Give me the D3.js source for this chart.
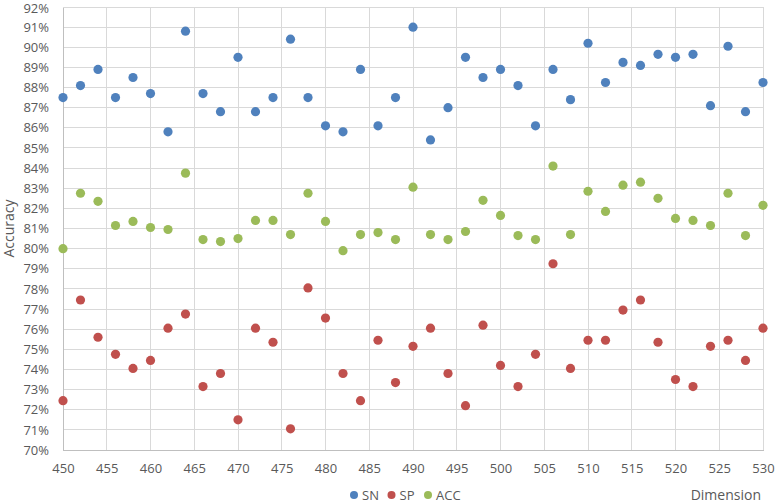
<!DOCTYPE html>
<html><head><meta charset="utf-8">
<script src="https://cdn.jsdelivr.net/npm/d3@7"></script>
<style>body{margin:0;background:#fff}svg{display:block}text{font-family:"Open Sans","Liberation Sans",sans-serif}</style>
</head><body><svg id="c" width="778" height="504"></svg>
<script>
const dims = d3.range(450, 531, 2);
const SN = [87.5,88.1,88.9,87.5,88.5,87.7,85.8,90.8,87.7,86.8,89.5,86.8,87.5,90.4,87.5,86.1,85.8,88.9,86.1,87.5,91.0,85.4,87.0,89.5,88.5,88.9,88.1,86.1,88.9,87.4,90.2,88.25,89.25,89.1,89.65,89.5,89.65,87.1,90.05,86.8,88.25];
const SP = [72.45,77.45,75.6,74.75,74.05,74.45,76.05,76.75,73.15,73.8,71.5,76.05,75.35,71.05,78.05,76.55,73.8,72.45,75.45,73.35,75.15,76.05,73.8,72.2,76.2,74.2,73.15,74.75,79.25,74.05,75.45,75.45,76.95,77.45,75.35,73.5,73.15,75.15,75.45,74.45,76.05];
const ACC = [80.0,82.75,82.35,81.15,81.35,81.05,80.95,83.75,80.45,80.35,80.5,81.4,81.4,80.7,82.75,81.35,79.9,80.7,80.8,80.45,83.05,80.7,80.45,80.85,82.4,81.65,80.65,80.45,84.1,80.7,82.85,81.85,83.15,83.3,82.5,81.5,81.4,81.15,82.75,80.65,82.15];
const xTicks = d3.range(450, 531, 5);
const yTicks = d3.range(70, 93, 1);
const series = [
  {name:"SN", values:SN, color:"#4F81BD"},
  {name:"SP", values:SP, color:"#C0504D"},
  {name:"ACC", values:ACC, color:"#9BBB59"}
];

const svg = d3.select("#c");
const L = 63, R = 763, T = 7, B = 450;
const x = d3.scaleLinear().domain([450,530]).range([L,R]);
const y = d3.scaleLinear().domain([70,92]).range([B,T]);

// gridlines
svg.append("g").selectAll("line").data(yTicks.slice(1)).join("line")
  .attr("x1",L).attr("x2",R).attr("y1",d=>y(d)).attr("y2",d=>y(d))
  .attr("stroke","#d9d9d9").attr("stroke-width",1).attr("shape-rendering","crispEdges");
svg.append("g").selectAll("line").data(xTicks.slice(1)).join("line")
  .attr("y1",T).attr("y2",B).attr("x1",d=>x(d)).attr("x2",d=>x(d))
  .attr("stroke","#d9d9d9").attr("stroke-width",1).attr("shape-rendering","crispEdges");

// axes
const yAxis = svg.append("g").attr("transform",`translate(${L},0)`)
  .call(d3.axisLeft(y).tickValues(yTicks).tickSize(0).tickPadding(14).tickFormat(d=>d+"%"));
const xAxis = svg.append("g").attr("transform",`translate(0,${B})`)
  .call(d3.axisBottom(x).tickValues(xTicks).tickSize(0).tickPadding(14).tickFormat(d3.format("d")));
[yAxis,xAxis].forEach(a=>{
  a.select(".domain").attr("stroke","#bfbfbf").attr("shape-rendering","crispEdges");
  a.selectAll("text").attr("fill","#595959").style("font-size","13px").style("font-family",'"Open Sans","Liberation Sans",sans-serif');
});
// keep the top label inside the picture
yAxis.selectAll(".tick").filter(d=>d===92).select("text").attr("y",1.5);

// points
series.forEach(s=>{
  svg.append("g").selectAll("circle").data(dims.map((d,i)=>[d,s.values[i]])).join("circle")
    .attr("cx",d=>x(d[0])).attr("cy",d=>y(d[1])).attr("r",4.6).attr("fill",s.color);
});

// titles
svg.append("text").attr("transform",`translate(14,${(T+B)/2}) rotate(-90)`)
  .attr("text-anchor","middle").attr("fill","#595959").style("font-size","14px").text("Accuracy");
svg.append("text").attr("x",761).attr("y",500).attr("text-anchor","end")
  .attr("fill","#595959").style("font-size","14px").text("Dimension");

// legend
const lg = svg.append("g");
const lx = [354, 391.5, 428];
series.forEach((s,i)=>{
  lg.append("circle").attr("cx",lx[i]).attr("cy",495).attr("r",4).attr("fill",s.color);
  lg.append("text").attr("x",lx[i]+8).attr("y",500).attr("fill","#595959").style("font-size","13px").text(s.name);
});
</script></body></html>
